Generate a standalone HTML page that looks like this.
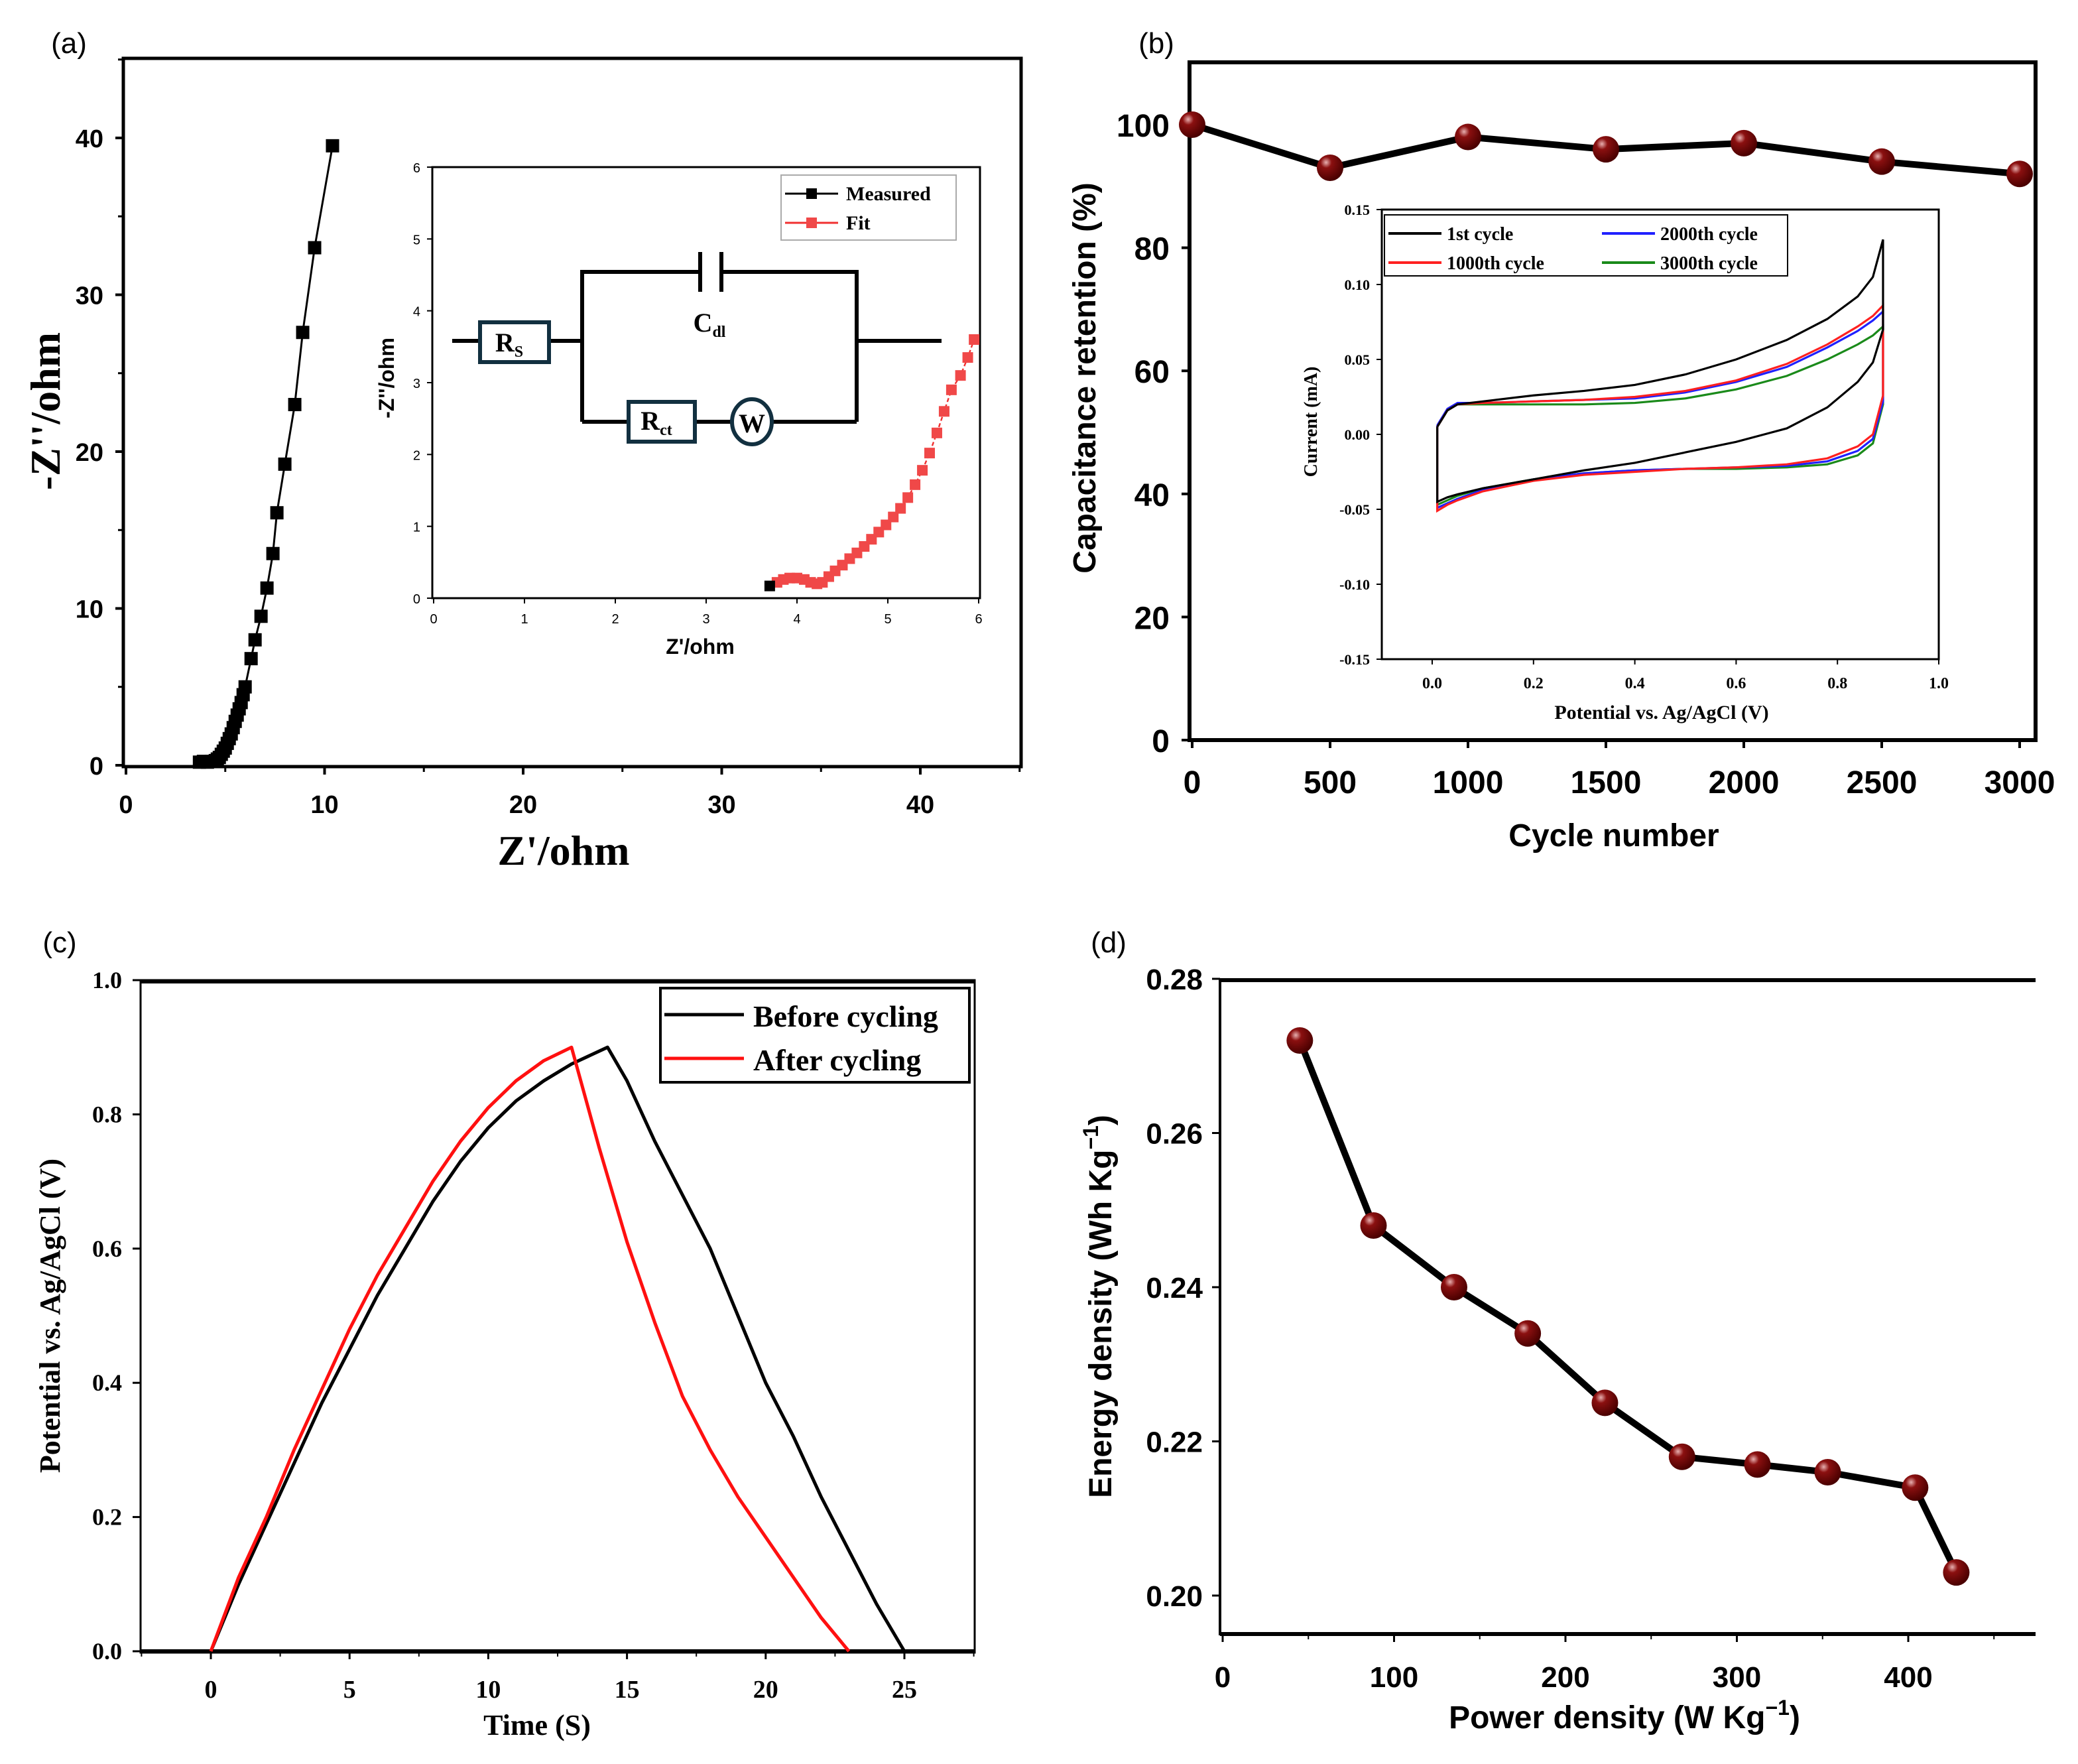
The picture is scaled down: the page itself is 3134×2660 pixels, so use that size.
<!DOCTYPE html>
<html><head><meta charset="utf-8"><style>
html,body{margin:0;padding:0;background:#fff;}
svg{display:block;}
.sans{font-family:"Liberation Sans",sans-serif;}
.serif{font-family:"Liberation Serif",serif;}
</style></head><body>
<svg id="fig" xmlns="http://www.w3.org/2000/svg" width="3134" height="2660" viewBox="0 0 1567 1330">
<defs>
<radialGradient id="ball" cx="0.35" cy="0.3" r="0.7">
<stop offset="0" stop-color="#e8b0b0"/><stop offset="0.3" stop-color="#8b1010"/><stop offset="1" stop-color="#4a0000"/>
</radialGradient>
</defs>
<g id="root"></g>
</svg>
<script>
// ---------- DATA ----------
const aX=[3.7,3.9,4.1,4.3,4.5,4.6,4.7,4.8,4.9,5.0,5.1,5.2,5.3,5.4,5.5,5.6,5.7,5.8,5.9,6.0,6.3,6.5,6.8,7.1,7.4,7.6,8.0,8.5,8.9,9.5,10.4];
const aY=[0.2,0.25,0.2,0.25,0.3,0.4,0.5,0.7,0.9,1.1,1.4,1.7,2.0,2.4,2.8,3.2,3.6,4.0,4.5,5.0,6.8,8.0,9.5,11.3,13.5,16.1,19.2,23.0,27.6,33.0,39.5];
const aXTicks=[0,10,20,30,40];
const aYTicks=[0,10,20,30,40];
const fitX=[3.78,3.85,3.92,4.0,4.08,4.15,4.22,4.28,4.35,4.42,4.5,4.58,4.66,4.74,4.82,4.9,4.98,5.06,5.14,5.22,5.3,5.38,5.46,5.54,5.62,5.7,5.8,5.88,5.95];
const fitY=[0.22,0.26,0.28,0.28,0.26,0.22,0.2,0.22,0.3,0.38,0.46,0.55,0.63,0.72,0.82,0.92,1.02,1.13,1.25,1.4,1.58,1.78,2.02,2.3,2.6,2.9,3.1,3.35,3.6];
const measX=[3.7], measY=[0.17];
const insAXTicks=[0,1,2,3,4,5,6];
const insAYTicks=[0,1,2,3,4,5,6];
const bCycles=[0,500,1000,1500,2000,2500,3000];
const bRetention=[100,93,98,96,97,94,92];
const bXTicks=[0,500,1000,1500,2000,2500,3000];
const bYTicks=[0,20,40,60,80,100];
const cvV=[0.01,0.03,0.05,0.1,0.2,0.3,0.4,0.5,0.6,0.7,0.78,0.84,0.87,0.89];
const cv1Up=[0.005,0.016,0.02,0.022,0.026,0.029,0.033,0.04,0.05,0.063,0.077,0.092,0.105,0.13];
const cv1Lo=[-0.045,-0.042,-0.04,-0.036,-0.03,-0.024,-0.019,-0.012,-0.005,0.004,0.018,0.035,0.048,0.07];
const cv2Up=[0.005,0.016,0.02,0.021,0.022,0.023,0.025,0.029,0.036,0.047,0.06,0.072,0.079,0.086];
const cv2Lo=[-0.051,-0.047,-0.044,-0.038,-0.031,-0.027,-0.025,-0.023,-0.022,-0.02,-0.016,-0.008,0.0,0.026];
const cv3Up=[0.006,0.017,0.021,0.021,0.022,0.023,0.024,0.028,0.035,0.045,0.058,0.069,0.076,0.082];
const cv3Lo=[-0.049,-0.046,-0.043,-0.037,-0.03,-0.026,-0.024,-0.023,-0.022,-0.021,-0.018,-0.011,-0.003,0.022];
const cv4Up=[0.005,0.016,0.02,0.02,0.02,0.02,0.021,0.024,0.03,0.039,0.05,0.06,0.066,0.072];
const cv4Lo=[-0.047,-0.044,-0.041,-0.036,-0.03,-0.026,-0.024,-0.023,-0.023,-0.022,-0.02,-0.014,-0.006,0.02];
const insBXTicks=[0.0,0.2,0.4,0.6,0.8,1.0];
const insBYTicks=[-0.15,-0.10,-0.05,0.00,0.05,0.10,0.15];
const cBeforeT=[0,1,2,3,4,5,6,7,8,9,10,11,12,13,14.3,15,16,17,18,19,20,21,22,23,24,25];
const cBeforeV=[0,0.1,0.19,0.28,0.37,0.45,0.53,0.6,0.67,0.73,0.78,0.82,0.85,0.875,0.9,0.85,0.76,0.68,0.6,0.5,0.4,0.32,0.23,0.15,0.07,0];
const cAfterT=[0,1,2,3,4,5,6,7,8,9,10,11,12,13,14,15,16,17,18,19,20,21,22,23];
const cAfterV=[0,0.11,0.2,0.3,0.39,0.48,0.56,0.63,0.7,0.76,0.81,0.85,0.88,0.9,0.75,0.61,0.49,0.38,0.3,0.23,0.17,0.11,0.05,0];
const cXTicks=[0,5,10,15,20,25];
const cYTicks=[0.0,0.2,0.4,0.6,0.8,1.0];
const dPower=[45,88,135,178,223,268,312,353,404,428];
const dEnergy=[0.272,0.248,0.240,0.234,0.225,0.218,0.217,0.216,0.214,0.203];
const dXTicks=[0,100,200,300,400];
const dYTicks=[0.20,0.22,0.24,0.26,0.28];

// ---------- helpers ----------
const NS="http://www.w3.org/2000/svg";
const root=document.getElementById('root');
function el(tag,attrs,parent,text){const e=document.createElementNS(NS,tag);for(const k in attrs)e.setAttribute(k,attrs[k]);if(text!==undefined)e.textContent=text;(parent||root).appendChild(e);return e;}
function lin(d0,d1,r0,r1){return v=>r0+(v-d0)*(r1-r0)/(d1-d0);}
function poly(xs,ys,sx,sy){return xs.map((x,i)=>sx(x).toFixed(2)+','+sy(ys[i]).toFixed(2)).join(' ');}
function txt(x,y,s,size,cls,anchor,weight,parent,extra){const t=el('text',Object.assign({x:x,y:y,'font-size':size,'text-anchor':anchor||'middle','font-weight':weight||'bold',class:cls},extra||{}),parent,s);return t;}

// ---------- Panel (a) ----------
let g=el('g',{});
txt(52,40,'(a)',22,'sans','middle','normal',g);
let sx=lin(0,40,95,694), sy=lin(0,40,577,104);
el('rect',{x:93,y:44,width:677,height:534,fill:'none',stroke:'#000','stroke-width':2.5},g);
aXTicks.forEach(v=>{el('line',{x1:sx(v),x2:sx(v),y1:578,y2:584,stroke:'#000','stroke-width':2},g);txt(sx(v),613,String(v),19,'sans','middle','bold',g);});
[5,15,25,35,45].forEach(v=>el('line',{x1:sx(v),x2:sx(v),y1:578,y2:582,stroke:'#000','stroke-width':1.5},g));
aYTicks.forEach(v=>{el('line',{x1:87,x2:93,y1:sy(v),y2:sy(v),stroke:'#000','stroke-width':2},g);txt(78,sy(v)+7,String(v),19,'sans','end','bold',g);});
[5,15,25,35,45].forEach(v=>el('line',{x1:89,x2:93,y1:sy(v),y2:sy(v),stroke:'#000','stroke-width':1.5},g));
let t=txt(425,652,"Z'/ohm",32,'serif','middle','bold',g);
t=txt(0,0,"-Z''/ohm",32,'serif','middle','bold',g,{transform:'translate(45,310) rotate(-90)'});
el('polyline',{points:poly(aX,aY,sx,sy),fill:'none',stroke:'#000','stroke-width':1.5},g);
aX.forEach((x,i)=>{const r=el('rect',{x:sx(x)-5,y:sy(aY[i])-5,width:10,height:10,fill:'#000'},g);});
let gi=el('g',{},g);
let ix=lin(0,6,327,738), iy=lin(0,6,451,126);
el('rect',{x:326,y:126,width:413,height:325,fill:'#fff',stroke:'#000','stroke-width':1.5},gi);
insAXTicks.forEach(v=>{el('line',{x1:ix(v),x2:ix(v),y1:451,y2:455,stroke:'#000'},gi);txt(ix(v),470,String(v),10,'sans','middle','normal',gi);});
insAYTicks.forEach(v=>{el('line',{x1:322,x2:326,y1:iy(v),y2:iy(v),stroke:'#000'},gi);txt(317,iy(v)+4,String(v),10,'sans','end','normal',gi);});
txt(528,493,"Z'/ohm",16,'sans','middle','bold',gi);
txt(0,0,"-Z''/ohm",16,'sans','middle','bold',gi,{transform:'translate(297,285) rotate(-90)'});
el('polyline',{points:poly(fitX,fitY,ix,iy),fill:'none',stroke:'#f03030','stroke-width':1.2,'stroke-dasharray':'3,2'},gi);
fitX.forEach((x,i)=>{const r=el('rect',{x:ix(x)-4,y:iy(fitY[i])-4,width:8,height:8,fill:'#f04848'},gi);});
measX.forEach((x,i)=>{el('rect',{x:ix(x)-4,y:iy(measY[i])-4,width:8,height:8,fill:'#000'},gi);});
let lg=el('g',{},gi);
el('rect',{x:589,y:132,width:132,height:49,fill:'#fff',stroke:'#aaa'},lg);
el('line',{x1:592,x2:632,y1:146,y2:146,stroke:'#000','stroke-width':1.5},lg);el('rect',{x:608,y:142,width:8,height:8,fill:'#000'},lg);
txt(638,151,'Measured',15,'serif','start','bold',lg);
el('line',{x1:592,x2:632,y1:168,y2:168,stroke:'#f03030','stroke-width':1.5},lg);el('rect',{x:608,y:164,width:8,height:8,fill:'#f04848'},lg);
txt(638,173,'Fit',15,'serif','start','bold',lg);
let cg=el('g',{stroke:'#000','stroke-width':3,fill:'none'},gi);
el('polyline',{points:'341,257 362,257'},cg);el('polyline',{points:'414,257 439,257'},cg);
el('polyline',{points:'439,318 439,205 528,205'},cg);el('polyline',{points:'544,205 646,205 646,318'},cg);
el('line',{x1:528,x2:528,y1:190,y2:220},cg);el('line',{x1:544,x2:544,y1:190,y2:220},cg);
el('polyline',{points:'439,318 474,318'},cg);el('polyline',{points:'524,318 552,318'},cg);el('polyline',{points:'582,318 646,318'},cg);
el('polyline',{points:'646,257 710,257'},cg);
el('rect',{x:362,y:243,width:52,height:30,stroke:'#123040'},cg);
el('rect',{x:474,y:303,width:50,height:30,stroke:'#123040'},cg);
el('ellipse',{cx:567,cy:318,rx:15,ry:17,stroke:'#123040'},cg);
let tt=txt(384,265,'R',20,'serif','middle','bold',gi);el('tspan',{'font-size':12,dy:4},tt,'S');
tt=txt(495,324,'R',20,'serif','middle','bold',gi);el('tspan',{'font-size':12,dy:4},tt,'ct');
txt(567,326,'W',20,'serif','middle','bold',gi);
tt=txt(535,250,'C',20,'serif','middle','bold',gi);el('tspan',{'font-size':12,dy:4},tt,'dl');

// ---------- Panel (b) ----------
g=el('g',{});
txt(872,40,'(b)',22,'sans','middle','normal',g);
sx=lin(0,3000,899,1523); sy=lin(0,100,558,94);
el('rect',{x:897,y:47,width:638,height:511,fill:'none',stroke:'#000','stroke-width':3},g);
bXTicks.forEach(v=>{el('line',{x1:sx(v),x2:sx(v),y1:558,y2:564,stroke:'#000','stroke-width':2},g);txt(sx(v),598,String(v),24,'sans','middle','bold',g);});
bYTicks.forEach(v=>{el('line',{x1:891,x2:897,y1:sy(v),y2:sy(v),stroke:'#000','stroke-width':2},g);txt(882,sy(v)+9,String(v),24,'sans','end','bold',g);});
txt(1217,638,'Cycle number',24,'sans','middle','bold',g);
txt(0,0,'Capacitance retention (%)',24,'sans','middle','bold',g,{transform:'translate(826,285) rotate(-90)'});
el('polyline',{points:poly(bCycles,bRetention,sx,sy),fill:'none',stroke:'#000','stroke-width':5},g);
bCycles.forEach((c,i)=>{const m=el('circle',{cx:sx(c),cy:sy(bRetention[i]),r:10,fill:'url(#ball)'},g);});
gi=el('g',{},g);
ix=lin(0,1,1080,1462); iy=lin(-0.15,0.15,497,158);
el('rect',{x:1042,y:158,width:420,height:339,fill:'#fff',stroke:'#000','stroke-width':1.5},gi);
insBXTicks.forEach(v=>{el('line',{x1:ix(v),x2:ix(v),y1:497,y2:501,stroke:'#000'},gi);txt(ix(v),519,v.toFixed(1),12,'serif','middle','bold',gi);});
insBYTicks.forEach(v=>{el('line',{x1:1038,x2:1042,y1:iy(v),y2:iy(v),stroke:'#000'},gi);txt(1033,iy(v)+4,v.toFixed(2),11,'serif','end','bold',gi);});
txt(1253,542,'Potential vs. Ag/AgCl (V)',15,'serif','middle','bold',gi);
txt(0,0,'Current (mA)',14,'serif','middle','bold',gi,{transform:'translate(993,318) rotate(-90)'});
function cvPath(up,lo,color,name){const xs=cvV.concat([0.89]).concat(cvV.slice().reverse());const ys=up.concat([lo[lo.length-1]]).concat(lo.slice().reverse());const p=el('polyline',{points:poly(xs,ys,ix,iy)+' '+ix(cvV[0])+','+iy(up[0]),fill:'none',stroke:color,'stroke-width':1.6},gi);}
cvPath(cv4Up,cv4Lo,'#1a8a1a','cv-3000th');
cvPath(cv3Up,cv3Lo,'#2020ff','cv-2000th');
cvPath(cv2Up,cv2Lo,'#ff2020','cv-1000th');
cvPath(cv1Up,cv1Lo,'#000','cv-1st');
lg=el('g',{},gi);
el('rect',{x:1044,y:162,width:304,height:46,fill:'#fff',stroke:'#000'},lg);
[['1st cycle','#000',1047,176],['1000th cycle','#ff2020',1047,198],['2000th cycle','#2020ff',1208,176],['3000th cycle','#1a8a1a',1208,198]].forEach(a=>{el('line',{x1:a[2],x2:a[2]+40,y1:a[3],y2:a[3],stroke:a[1],'stroke-width':2},lg);txt(a[2]+44,a[3]+5,a[0],14,'serif','start','bold',lg);});

// ---------- Panel (c) ----------
g=el('g',{});
txt(45,718,'(c)',22,'sans','middle','normal',g);
sx=lin(0,25,159,682); sy=lin(0,1,1245,739);
el('rect',{x:106,y:739,width:629,height:507,fill:'none',stroke:'#000','stroke-width':1.5},g);
el('line',{x1:106,x2:735,y1:740,y2:740,stroke:'#000','stroke-width':3},g);
el('line',{x1:106,x2:735,y1:1245,y2:1245,stroke:'#000','stroke-width':3},g);
cXTicks.forEach(v=>{el('line',{x1:sx(v),x2:sx(v),y1:1245,y2:1251,stroke:'#000','stroke-width':1.5},g);txt(sx(v),1280,String(v),19,'serif','middle','bold',g);});
[-2.5,2.5,7.5,12.5,17.5,22.5,27.5].forEach(v=>el('line',{x1:sx(v),x2:sx(v),y1:1245,y2:1249,stroke:'#000'},g));
cYTicks.forEach(v=>{el('line',{x1:100,x2:106,y1:sy(v),y2:sy(v),stroke:'#000','stroke-width':1.5},g);txt(92,sy(v)+6,v.toFixed(1),18,'serif','end','bold',g);});
txt(405,1308,'Time (S)',22,'serif','middle','bold',g);
txt(0,0,'Potential vs. Ag/AgCl (V)',22,'serif','middle','bold',g,{transform:'translate(45,992) rotate(-90)'});
let p=el('polyline',{points:poly(cBeforeT,cBeforeV,sx,sy),fill:'none',stroke:'#000','stroke-width':2.5,'stroke-linejoin':'round'},g);
p=el('polyline',{points:poly(cAfterT,cAfterV,sx,sy),fill:'none',stroke:'#ff1010','stroke-width':2.5,'stroke-linejoin':'round'},g);
lg=el('g',{},g);
el('rect',{x:498,y:745,width:233,height:71,fill:'#fff',stroke:'#000','stroke-width':2},lg);
el('line',{x1:501,x2:561,y1:765,y2:765,stroke:'#000','stroke-width':2.5},lg);txt(568,774,'Before cycling',23,'serif','start','bold',lg);
el('line',{x1:501,x2:561,y1:798,y2:798,stroke:'#ff1010','stroke-width':2.5},lg);txt(568,807,'After cycling',23,'serif','start','bold',lg);

// ---------- Panel (d) ----------
g=el('g',{});
txt(836,718,'(d)',22,'sans','middle','normal',g);
sx=lin(0,400,922,1439); sy=lin(0.20,0.28,1203,738);
el('line',{x1:920,x2:1535,y1:739,y2:739,stroke:'#000','stroke-width':3},g);
el('line',{x1:920,x2:1535,y1:1232,y2:1232,stroke:'#000','stroke-width':3},g);
el('line',{x1:920,x2:920,y1:738,y2:1233,stroke:'#000','stroke-width':2},g);
dXTicks.forEach(v=>{el('line',{x1:sx(v),x2:sx(v),y1:1232,y2:1238,stroke:'#000','stroke-width':1.5},g);txt(sx(v),1272,String(v),22,'sans','middle','bold',g);});
[50,150,250,350,450].forEach(v=>el('line',{x1:sx(v),x2:sx(v),y1:1232,y2:1236,stroke:'#000'},g));
dYTicks.forEach(v=>{el('line',{x1:914,x2:920,y1:sy(v),y2:sy(v),stroke:'#000','stroke-width':1.5},g);txt(907,sy(v)+8,v.toFixed(2),22,'sans','end','bold',g);});
tt=txt(1225,1303,'Power density (W Kg',24,'sans','middle','bold',g);el('tspan',{'font-size':16,dy:-10},tt,'−1');el('tspan',{dy:10},tt,')');
tt=txt(0,0,'Energy density (Wh Kg',24,'sans','middle','bold',g,{transform:'translate(838,985) rotate(-90)'});el('tspan',{'font-size':16,dy:-10},tt,'−1');el('tspan',{dy:10},tt,')');
el('polyline',{points:poly(dPower,dEnergy,sx,sy),fill:'none',stroke:'#000','stroke-width':5},g);
dPower.forEach((x,i)=>{const m=el('circle',{cx:sx(x),cy:sy(dEnergy[i]),r:10,fill:'url(#ball)'},g);});
</script>
</body></html>
